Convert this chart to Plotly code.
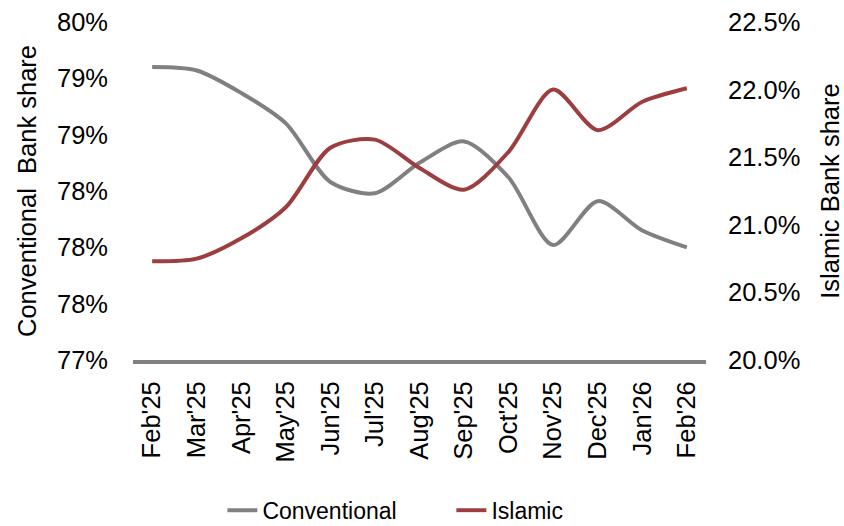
import plotly.graph_objects as go

# Monthly market share of conventional vs Islamic banks (%)
months = ["Feb'25", "Mar'25", "Apr'25", "May'25", "Jun'25", "Jul'25", "Aug'25",
          "Sep'25", "Oct'25", "Nov'25", "Dec'25", "Jan'26", "Feb'26"]
conventional = [79.60, 79.57, 79.37, 79.10, 78.58, 78.48, 78.75,
                78.94, 78.62, 78.02, 78.41, 78.15, 78.00]
islamic = [20.73, 20.75, 20.90, 21.13, 21.57, 21.63, 21.42,
           21.26, 21.54, 22.00, 21.70, 21.91, 22.01]

left_tickvals = [77, 77.5, 78, 78.5, 79, 79.5, 80]
left_ticktext = ["77%", "78%", "78%", "78%", "79%", "79%", "80%"]
right_tickvals = [20.0, 20.5, 21.0, 21.5, 22.0, 22.5]
right_ticktext = ["20.0%", "20.5%", "21.0%", "21.5%", "22.0%", "22.5%"]

GREY = "#808083"
RED = "#9c3d3f"
FONT = "Liberation Sans, Arial, sans-serif"
FS = 25.5

fig = go.Figure()
fig.add_trace(go.Scatter(
    x=months, y=conventional, name="Conventional", mode="lines",
    line=dict(color=GREY, width=4, shape="spline", smoothing=0.8),
))
fig.add_trace(go.Scatter(
    x=months, y=islamic, name="Islamic", mode="lines", yaxis="y2",
    line=dict(color=RED, width=4, shape="spline", smoothing=0.8),
))

fig.update_layout(
    width=844, height=526,
    margin=dict(l=133, r=138, t=22, b=166, autoexpand=False),
    paper_bgcolor="white", plot_bgcolor="white",
    font=dict(family=FONT, size=FS, color="#000000"),
    showlegend=True,
    legend=dict(orientation="h", x=0.156, y=-0.508, xanchor="left", yanchor="bottom",
                font=dict(size=23), entrywidth=184, tracegroupgap=0),
    xaxis=dict(
        type="category", showgrid=False, zeroline=False,
        showline=True, linecolor=GREY, linewidth=4,
        tickangle=-90, ticks="", ticklabelstandoff=7,
        tickfont=dict(size=FS),
        range=[-0.43, 12.43],
    ),
    yaxis=dict(
        range=[77, 80], tickvals=left_tickvals, ticktext=left_ticktext,
        showgrid=False, zeroline=False, showline=False, ticks="",
        ticklabelstandoff=24,
        title=dict(text="Conventional  Bank share", font=dict(size=FS), standoff=13),
    ),
    yaxis2=dict(
        range=[20.0, 22.5], tickvals=right_tickvals, ticktext=right_ticktext,
        overlaying="y", side="right",
        showgrid=False, zeroline=False, showline=False, ticks="",
        ticklabelstandoff=21,
        title=dict(text="Islamic Bank share", font=dict(size=FS), standoff=24),
    ),
)

fig.write_html("out.html")
